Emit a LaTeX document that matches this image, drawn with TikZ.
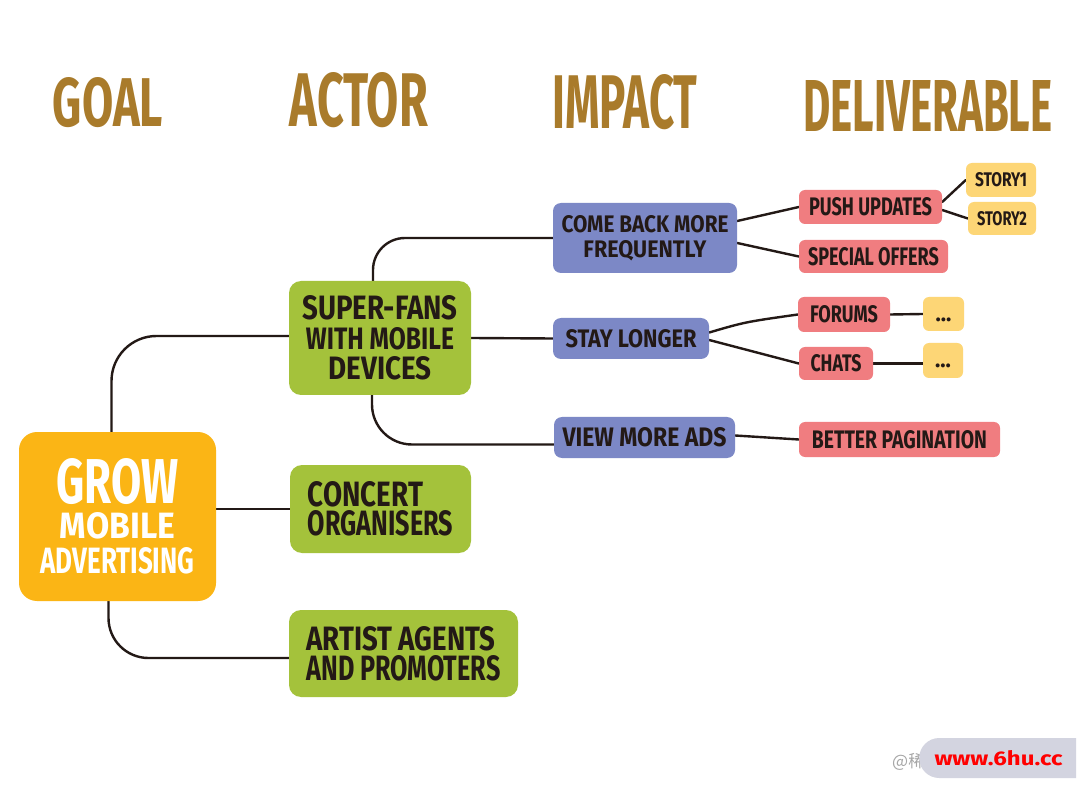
\documentclass[tikz,border=0pt]{standalone}
\usepackage{fontspec}
\setmainfont{Fira Sans}
\newfontfamily\cjkfont{Noto Sans CJK SC}
\usepackage{graphicx}
\usetikzlibrary{shapes.misc}
\definecolor{cHead}{HTML}{A97B2B}
\definecolor{cOrange}{HTML}{FBB515}
\definecolor{cGreen}{HTML}{A4C23B}
\definecolor{cBlue}{HTML}{7C88C6}
\definecolor{cRed}{HTML}{F07D80}
\definecolor{cYellow}{HTML}{FDD676}
\definecolor{cInk}{HTML}{231916}
\definecolor{cPill}{HTML}{D3D4E0}
\newcommand\rl[3]{\resizebox{#1pt}{#2pt}{\bfseries #3}}
\newcommand\stc[2]{\vbox{\baselineskip=#1pt\lineskiplimit=-100pt\halign{\hfil##\hfil\cr#2\crcr}}}
\newcommand\stl[2]{\vbox{\baselineskip=#1pt\lineskiplimit=-100pt\halign{##\hfil\cr#2\crcr}}}
\pgfdeclarelayer{bg}
\pgfsetlayers{bg,main}
\tikzset{
  base/.style={rectangle, draw=none, inner sep=0pt, text=cInk},
  sz/.style 2 args={minimum width=#1pt, minimum height=#2pt},
  goalbox/.style={base, fill=cOrange, rounded corners=18pt, text=white},
  actorbox/.style={base, fill=cGreen, rounded corners=12pt},
  impactbox/.style={base, fill=cBlue, rounded corners=8pt},
  delbox/.style={base, fill=cRed, rounded corners=6pt},
  storybox/.style={base, fill=cYellow, rounded corners=6pt},
  head/.style={inner sep=0pt, text=cHead},
  link/.style={draw=cInk, line width=2.4pt, line cap=round, line join=round},
}
\begin{document}
\begin{tikzpicture}[x=1pt,y=-1pt]
\useasboundingbox (0,0) rectangle (1077,794);

% headers
\node[head] (hgoal) at (108,102.5) {\rl{110}{49}{GOAL}};
\node[head] (hactor) at (359,100) {\rl{138}{54}{ACTOR}};
\node[head] (himpact) at (625,102) {\rl{145}{54}{IMPACT}};
\node[head] (hdel) at (928,106) {\rl{249}{51}{DELIVERABLE}};

% goal
\node[goalbox, sz={197}{169}] (grow) at (117.5,516.5)
  {\stc{35}{\rl{122}{45}{GROW}\cr\rl{115}{26}{MOBILE}\cr\rl{154}{26}{ADVERTISING}}};

% actors
\node[actorbox, sz={182}{114}] (fans) at (380,338)
  {\stc{30}{\rl{155}{24}{SUPER-FANS}\cr\rl{148}{22}{WITH MOBILE}\cr\rl{103}{23}{DEVICES}}};
\node[actorbox, sz={181}{88}] (concert) at (380.5,509)
  {\stl{29}{\rl{115}{25}{CONCERT}\cr\rl{145}{25}{ORGANISERS}}};
\node[actorbox, sz={229}{87}] (artist) at (403.5,653.5)
  {\stl{30}{\rl{189}{24}{ARTIST AGENTS}\cr\rl{194}{25}{AND PROMOTERS}}};

% impacts
\node[impactbox, sz={184}{70}] (comeback) at (645,238)
  {\stc{25}{\rl{167}{17}{COME BACK MORE}\cr\rl{123}{17}{FREQUENTLY}}};
\node[impactbox, sz={156}{41}] (stay) at (631,338.5) {\rl{131}{18}{STAY LONGER}};
\node[impactbox, sz={181}{41}] (view) at (644.5,437.5) {\rl{164}{19}{VIEW MORE ADS}};

% deliverables
\node[delbox, sz={143}{34}] (push) at (870.5,207) {\rl{123}{18}{PUSH UPDATES}};
\node[delbox, sz={149}{33}] (special) at (873.5,256.5) {\rl{131}{18}{SPECIAL OFFERS}};
\node[delbox, sz={92}{35}] (forums) at (844,314.5) {\rl{68}{17}{FORUMS}};
\node[delbox, sz={74}{33}] (chats) at (836,363.5) {\rl{51}{17}{CHATS}};
\node[delbox, sz={201}{35}] (better) at (899.5,439.5) {\rl{175}{18}{BETTER PAGINATION}};

% stories
\node[storybox, sz={70}{34}] (story1) at (1001,180) {\rl{52}{14}{STORY1}};
\node[storybox, sz={68}{33}] (story2) at (1002,218.5) {\rl{50}{14}{STORY2}};
\node[storybox, sz={41}{34}] (dots1) at (943.5,314) {\fontsize{22}{22}\selectfont\bfseries\vphantom{X}...};
\node[storybox, sz={40}{35}] (dots2) at (943,360.5) {\fontsize{22}{22}\selectfont\bfseries\vphantom{X}...};

% background and connectors
\begin{pgfonlayer}{bg}
\fill[white] (0,0) rectangle (1077,794);
\draw[link, rounded corners=45pt] ([xshift=-6pt]grow.north) |- ([yshift=2pt]fans.west);
\draw[link] (concert.west -| grow.east) -- (concert.west);
\draw[link, rounded corners=40pt] ([xshift=-9pt]grow.south) |- ([yshift=-4.5pt]artist.west);
\draw[link, rounded corners=32pt] ([xshift=-7pt]fans.north) |- (comeback.west);
\draw[link] (fans.east) -- (stay.west);
\draw[link, rounded corners=40pt] ([xshift=-8pt]fans.south) |- ([yshift=-7pt]view.west);
\draw[link] ([yshift=17pt]comeback.east) -- (push.west);
\draw[link] ([yshift=-5pt]comeback.east) -- (special.west);
\draw[link] ([yshift=5pt]push.east) -- (story1.west);
\draw[link] ([yshift=-3pt]push.east) -- (story2.west);
\draw[link] ([yshift=6pt]stay.east) .. controls (745,322) .. (forums.west);
\draw[link] ([yshift=-1.5pt]stay.east) -- (chats.west);
\draw[link] (forums.east) -- (dots1.west);
\draw[link] (chats.east) -- (chats.east -| dots2.west);
\draw[link] ([yshift=2pt]view.east) -- (better.west);
\end{pgfonlayer}

% watermark
\node[anchor=west, inner sep=0pt, text=gray!70, font=\cjkfont\fontsize{17}{17}\selectfont] (wmat) at (892,762) {@稀};
\node[rounded rectangle, rounded rectangle right arc=none, fill=cPill, minimum width=157pt, minimum height=40pt, inner sep=0pt, text=red] (wm) at (998.5,758) {\rl{128}{15}{www.6hu.cc}};
\end{tikzpicture}
\end{document}
